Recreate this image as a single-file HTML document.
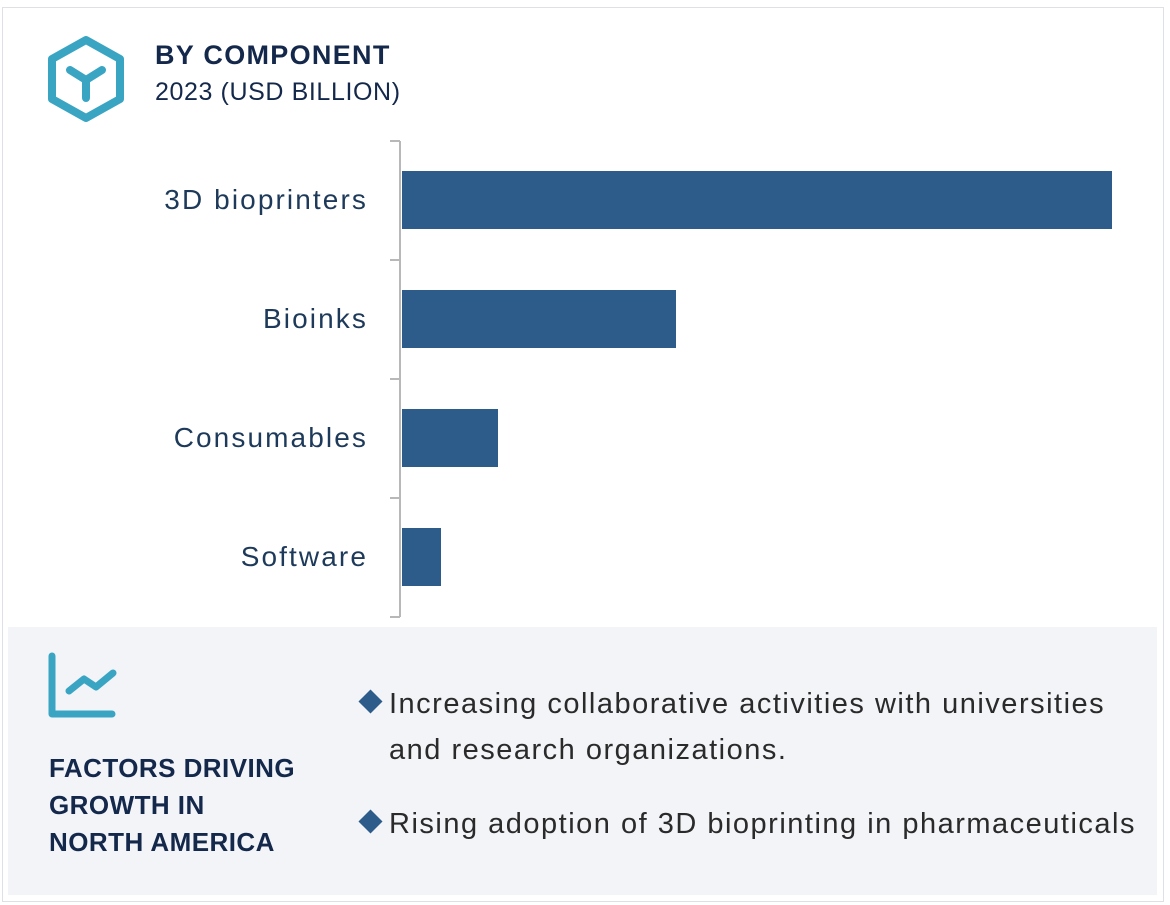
<!DOCTYPE html>
<html><head><meta charset="utf-8"><style>
body{margin:0;background:#fff;width:1170px;height:905px;position:relative;overflow:hidden;font-family:"Liberation Sans",sans-serif;}
.frame{position:absolute;left:2px;top:7px;width:1162px;height:895px;border:1px solid #dde0e5;box-sizing:border-box;}
.t1{position:absolute;left:155px;top:40px;font-size:27px;font-weight:bold;color:#14284b;letter-spacing:1.3px;}
.t2{position:absolute;left:155px;top:78px;font-size:25px;color:#14284b;letter-spacing:0.6px;}
.lab{position:absolute;right:802px;font-size:28px;color:#1e3a5a;text-align:right;white-space:nowrap;letter-spacing:2.1px;}
.bar{position:absolute;left:402px;height:58px;background:#2e5c8a;}
.panel{position:absolute;left:8px;top:627px;width:1149px;height:268px;background:#f2f4f8;}
.fac{position:absolute;left:49px;top:750px;font-size:26px;font-weight:bold;color:#14284b;line-height:37px;letter-spacing:0.45px;}
.b{position:absolute;left:358px;font-size:29px;color:#2a2a2a;line-height:46px;letter-spacing:1.5px;white-space:nowrap;}
.d{display:inline-block;width:17px;height:17px;background:#2e5c8a;transform:rotate(45deg);margin:0 10px 3px 4px;}
</style></head><body>
<div class="frame"></div>
<svg style="position:absolute;left:0;top:0" width="1170" height="905">
<polygon points="86,40 120,59 120,99 86,118 52,99 52,59" fill="none" stroke="#3aa5c3" stroke-width="8" stroke-linejoin="round"/>
<path d="M70,70 L86,80 L102,70 M86,80 L86,98" fill="none" stroke="#3aa5c3" stroke-width="8" stroke-linecap="round" stroke-linejoin="round"/>
<path d="M400,141 V617 M390,141 H400 M390,260 H400 M390,379 H400 M390,498 H400 M390,617 H400" stroke="#b8b8b8" stroke-width="2" fill="none"/>
</svg>
<div class="t1">BY COMPONENT</div>
<div class="t2">2023 (USD BILLION)</div>
<div class="lab" style="top:184px">3D bioprinters</div>
<div class="lab" style="top:303px">Bioinks</div>
<div class="lab" style="top:422px">Consumables</div>
<div class="lab" style="top:541px">Software</div>
<div class="bar" style="top:171px;width:710px"></div>
<div class="bar" style="top:290px;width:274px"></div>
<div class="bar" style="top:409px;width:96px"></div>
<div class="bar" style="top:528px;width:39px"></div>
<div class="panel"></div>
<svg style="position:absolute;left:0;top:620px" width="200" height="120">
<path d="M52,36 V94 H112" fill="none" stroke="#3aa5c3" stroke-width="7" stroke-linecap="round" stroke-linejoin="round"/>
<path d="M69,71 L84,59 L96,67 L113,53" fill="none" stroke="#3aa5c3" stroke-width="7" stroke-linecap="round" stroke-linejoin="round"/>
</svg>
<div class="fac">FACTORS DRIVING<br>GROWTH IN<br>NORTH AMERICA</div>
<div class="b" style="top:681px"><span class="d"></span>Increasing collaborative activities with universities<br><span style="padding-left:31px">and research organizations.</span></div>
<div class="b" style="top:801px"><span class="d"></span>Rising adoption of 3D bioprinting in pharmaceuticals</div>
</body></html>
